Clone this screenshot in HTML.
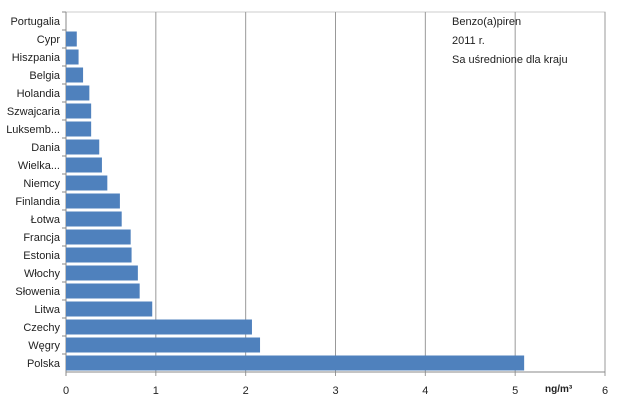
<!DOCTYPE html>
<html><head><meta charset="utf-8"><style>
body{margin:0;background:#fff;}
svg{display:block;font-family:"Liberation Sans",sans-serif;}
</style></head><body>
<svg width="622" height="405">
<g id="plot"></g>
<text x="452" y="25" font-size="11" fill="#222">Benzo(a)piren</text>
<text x="452" y="44" font-size="11" fill="#222">2011 r.</text>
<text x="452" y="63" font-size="11" fill="#222">Sa uśrednione  dla kraju</text>
<text x="545" y="392" font-size="10" font-weight="bold" fill="#222">ng/m³</text>
</svg>
<script>
const categories=["Portugalia","Cypr","Hiszpania","Belgia","Holandia","Szwajcaria","Luksemb...","Dania","Wielka...","Niemcy","Finlandia","Łotwa","Francja","Estonia","Włochy","Słowenia","Litwa","Czechy","Węgry","Polska"];
const values=[0,0.12,0.14,0.19,0.26,0.28,0.28,0.37,0.40,0.46,0.60,0.62,0.72,0.73,0.80,0.82,0.96,2.07,2.16,5.10];
const ticks=[0,1,2,3,4,5,6];
const NS="http://www.w3.org/2000/svg";
const g=document.getElementById('plot');
const L=66,R=605,T=12,B=372;
const x=v=>L+(R-L)*v/6;
const band=(B-T)/categories.length;
const y=i=>T+band*i;
function mk(t,a){const e=document.createElementNS(NS,t);for(const k in a)e.setAttribute(k,a[k]);g.appendChild(e);return e;}
let e=mk('rect',{x:L,y:T,width:R-L,height:B-T,fill:'none',stroke:'#ccc'});


ticks.forEach(t=>{
 const ln=mk('line',{x1:x(t),x2:x(t),y1:T,y2:B+4,stroke:t===0?'#888':'#999','stroke-width':1});
 
 
 const tx=mk('text',{x:x(t),y:B+22,'font-size':11,'text-anchor':'middle',fill:'#222'});
 tx.textContent=t;
 
 
});
const ax=mk('line',{x1:L,x2:R,y1:B,y2:B,stroke:'#888'});


categories.forEach((c,i)=>{
 const tk=mk('line',{x1:L-4,x2:L,y1:y(i),y2:y(i),stroke:'#888'});
 
 
 const r=mk('rect',{x:L,y:y(i)+1.5,width:x(values[i])-L,height:band-3,fill:'#4f81bd'});
 
 
 const t=mk('text',{x:L-6,y:y(i)+band/2+4,'font-size':11,'text-anchor':'end',fill:'#222'});
 t.textContent=c;
 
 
});
</script>
</body></html>
